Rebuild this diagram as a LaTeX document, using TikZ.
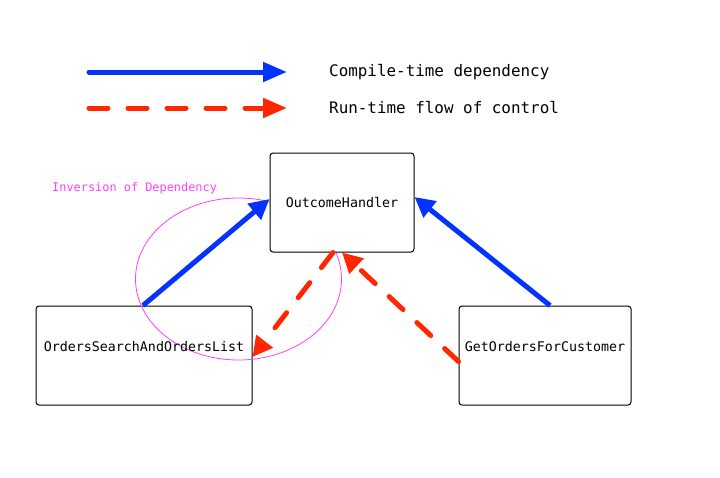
\documentclass[tikz,border=0pt]{standalone}
\usepackage{fontspec}
\setmonofont{DejaVu Sans Mono}
\usetikzlibrary{arrows.meta,shapes.geometric}
\definecolor{depblue}{HTML}{0433FF}
\definecolor{runred}{HTML}{FF2600}
\definecolor{invmag}{HTML}{FF40FF}
\tikzset{
  box/.style={draw=black, line width=1pt, rounded corners=3pt, fill=white, inner sep=0pt},
  boxtext/.style={font=\ttfamily\fontsize{13.3}{15}\selectfont, inner sep=0pt},
  legtext/.style={font=\ttfamily\fontsize{15.9}{18}\selectfont, inner sep=0pt, anchor=west},
  dep/.style={depblue, line width=5pt, -{Triangle[length=20pt,width=20pt]}},
  run/.style={runred, line width=5pt, line cap=round, dash pattern=on 19pt off 19pt, -{Triangle[length=20pt,width=20pt]}},
  legdep/.style={depblue, line width=5pt, line cap=round, -{Triangle[length=24pt,width=19pt]}},
  legrun/.style={runred, line width=5pt, line cap=round, dash pattern=on 19pt off 20pt, -{Triangle[length=24pt,width=19pt]}},
}
\begin{document}
\begin{tikzpicture}[x=1pt, y=-1pt]
  \useasboundingbox (0,0) rectangle (720,477);
  % legend
  \coordinate (l1s) at (89,72);
  \coordinate (l1e) at (287,72);
  \coordinate (l2s) at (89,108);
  \coordinate (l2e) at (287,108);
  \draw[legdep] (l1s) -- (l1e);
  \draw[legrun] (l2s) -- (l2e);
  \node[legtext] (leg1) at (329,72) {Compile-time dependency};
  \node[legtext] (leg2) at (329,108) {Run-time flow of control};
  % lower boxes
  \node[box, minimum width=216pt, minimum height=99pt] (osl) at (144,355.5) {};
  \node[box, minimum width=172pt, minimum height=99pt] (gofc) at (545,355.5) {};
  % ellipse
  \node[draw=invmag, line width=0.8pt, ellipse, minimum width=206pt, minimum height=162pt, inner sep=0pt] (inv) at (238.5,279) {};
  \node[text=invmag, font=\ttfamily\fontsize{11.9}{14}\selectfont, inner sep=0pt, anchor=west] (invlabel) at (52,188) {Inversion of Dependency};
  % top box
  \node[box, minimum width=144pt, minimum height=99pt] (oh) at (342,202.5) {};
  \node[boxtext] (ohtext) at (342,203) {OutcomeHandler};
  \node[boxtext] (osltext) at (144,347) {OrdersSearchAndOrdersList};
  \node[boxtext] (gofctext) at (545,347) {GetOrdersForCustomer};
  % connectors
  \draw[dep] ([xshift=-1pt]osl.north) -- ([yshift=3.5pt]oh.west);
  \draw[dep] ([xshift=5pt]gofc.north) -- ([yshift=5.5pt]oh.east);
  \draw[run] ([xshift=-9pt]oh.south) -- ([yshift=-1.5pt]osl.east);
  \draw[run] ([yshift=-6pt]gofc.west) -- (oh.south);
\end{tikzpicture}
\end{document}
